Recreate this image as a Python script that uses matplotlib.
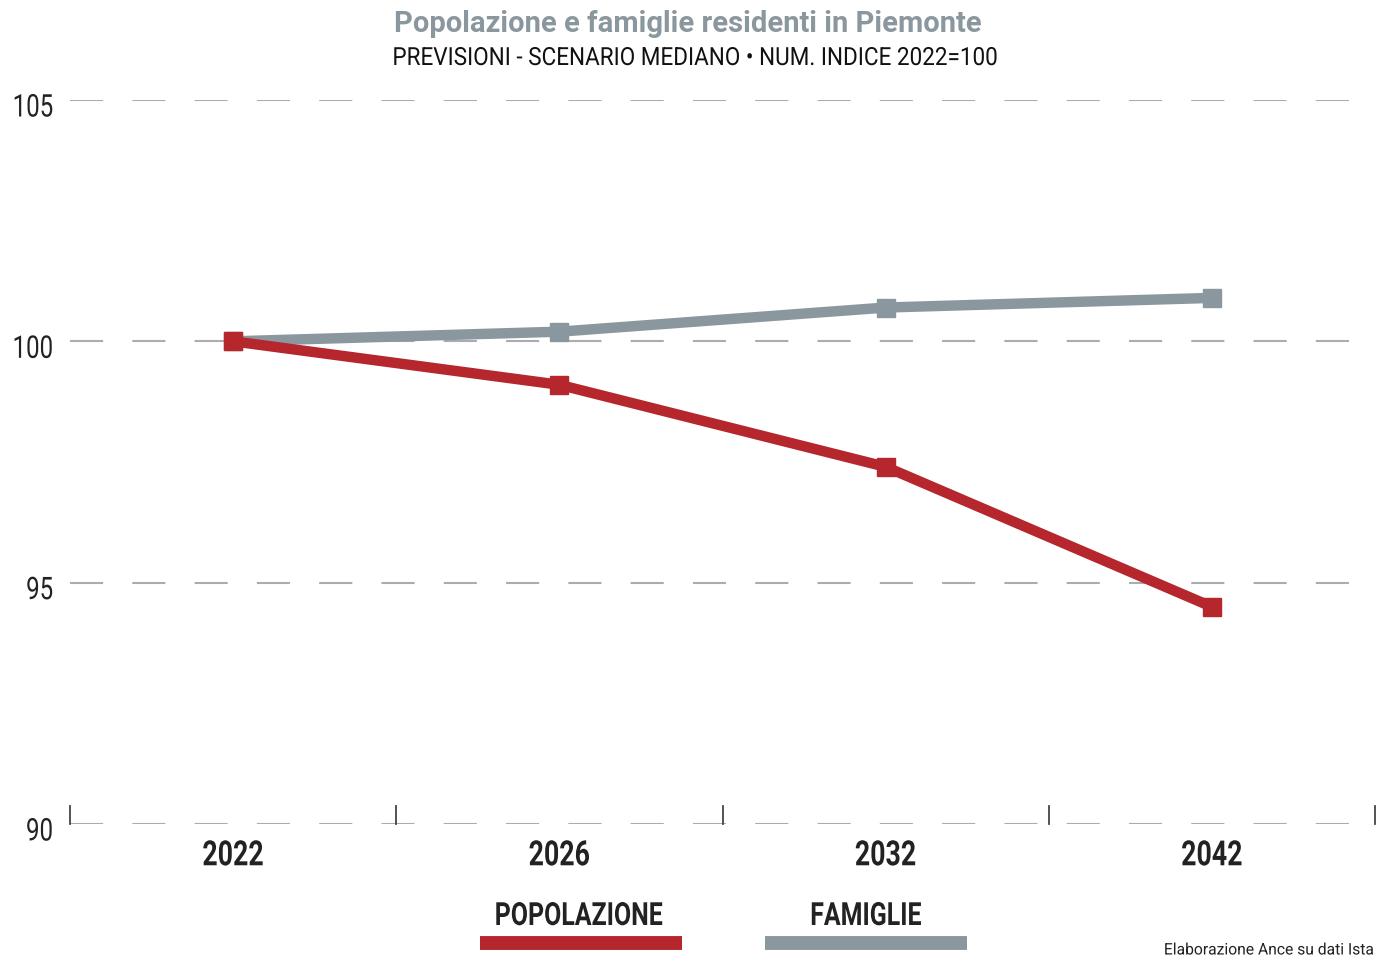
import matplotlib
matplotlib.use("Agg")
import matplotlib.pyplot as plt
from matplotlib.lines import Line2D
from matplotlib.patheffects import AbstractPathEffect
from matplotlib.transforms import Affine2D, ScaledTranslation

years = ["2022", "2026", "2032", "2042"]
popolazione = [100.0, 99.1, 97.4, 94.5]
famiglie = [100.0, 100.2, 100.7, 100.9]
yticks = [90, 95, 100, 105]

RED = "#B5262D"
GRAY = "#8B979E"
FONT = "Roboto"


class Condense(AbstractPathEffect):
    """Horizontally squeeze text glyphs around an anchor (emulates a condensed face)."""

    def __init__(self, sx, anchor="center"):
        super().__init__()
        self.sx = sx
        self.anchor = anchor

    def draw_path(self, renderer, gc, tpath, affine, rgbFace=None):
        ext = tpath.get_extents()
        if self.anchor == "left":
            cx = ext.x0
        elif self.anchor == "right":
            cx = ext.x1
        else:
            cx = (ext.x0 + ext.x1) / 2
        t = Affine2D().translate(-cx, 0).scale(self.sx, 1).translate(cx, 0) + affine
        renderer.draw_path(gc, tpath, t, rgbFace)


fig = plt.figure(figsize=(13.76, 9.59), dpi=100)
ax = fig.add_axes([70/1376, 1-824/959, (1375-70)/1376, (824-100)/959])

x = list(range(len(years)))
for yv in yticks:
    ax.axhline(yv, color="#ABABB3", lw=1.5, dashes=(15.9, 14.0), zorder=1)

ax.plot(x, famiglie, color=GRAY, lw=7.5, marker="s", ms=12.5, zorder=3)
ax.plot(x, popolazione, color=RED, lw=7.5, marker="s", ms=12.5, zorder=4)

ax.set_xlim(-0.5, 3.5)
ax.set_ylim(90, 105)
for s in ax.spines.values():
    s.set_visible(False)

ax.set_yticks(yticks)
ax.set_yticklabels([str(v) for v in yticks], family=FONT, fontsize=22.5, color="#222")
ax.tick_params(axis="y", length=0, pad=12)
for lab in ax.get_yticklabels():
    lab.set_path_effects([Condense(0.77, "right")])
    lab.set_transform(lab.get_transform() + ScaledTranslation(0, -5/100, fig.dpi_scale_trans))

ax.set_xticks(x)
ax.set_xticklabels(years, family=FONT, fontsize=25, fontweight="bold", color="#222")
ax.tick_params(axis="x", length=0, pad=11)
for lab in ax.get_xticklabels():
    lab.set_path_effects([Condense(0.77, "center")])

# band separators at bottom
for b in [-0.5, 0.5, 1.5, 2.5, 3.5]:
    ax.plot([b, b], [90, 90.38], color="#444", lw=1.3, clip_on=False, zorder=2)

fig.text(0.5, 1-24/959, "Popolazione e famiglie residenti in Piemonte", ha="center", va="center",
         family=FONT, fontsize=21, fontweight="bold", color=GRAY)
fig.text(695/1376, 1-58/959, "PREVISIONI - SCENARIO MEDIANO \u2022 NUM. INDICE 2022=100", ha="center",
         va="center", family=FONT, fontsize=18, color="#111",
         path_effects=[Condense(0.9, "center")])

# legend
fig.text(579/1376, 1-916/959, "POPOLAZIONE", ha="center", va="center", family=FONT,
         fontsize=23, fontweight="bold", color="#222", path_effects=[Condense(0.78, "center")])
fig.text(866/1376, 1-916/959, "FAMIGLIE", ha="center", va="center", family=FONT,
         fontsize=23, fontweight="bold", color="#222", path_effects=[Condense(0.78, "center")])
fig.add_artist(Line2D([480/1376, 682/1376], [1-943/959]*2, color=RED, lw=10, solid_capstyle="butt"))
fig.add_artist(Line2D([765/1376, 967/1376], [1-943/959]*2, color=GRAY, lw=10, solid_capstyle="butt"))

fig.text(1375/1376, 1-950/959, "Elaborazione Ance su dati Ista", ha="right", va="center",
         family=FONT, fontsize=11.5, color="#222", path_effects=[Condense(0.98, "right")])

fig.savefig("out.png", dpi=100, facecolor="white")
